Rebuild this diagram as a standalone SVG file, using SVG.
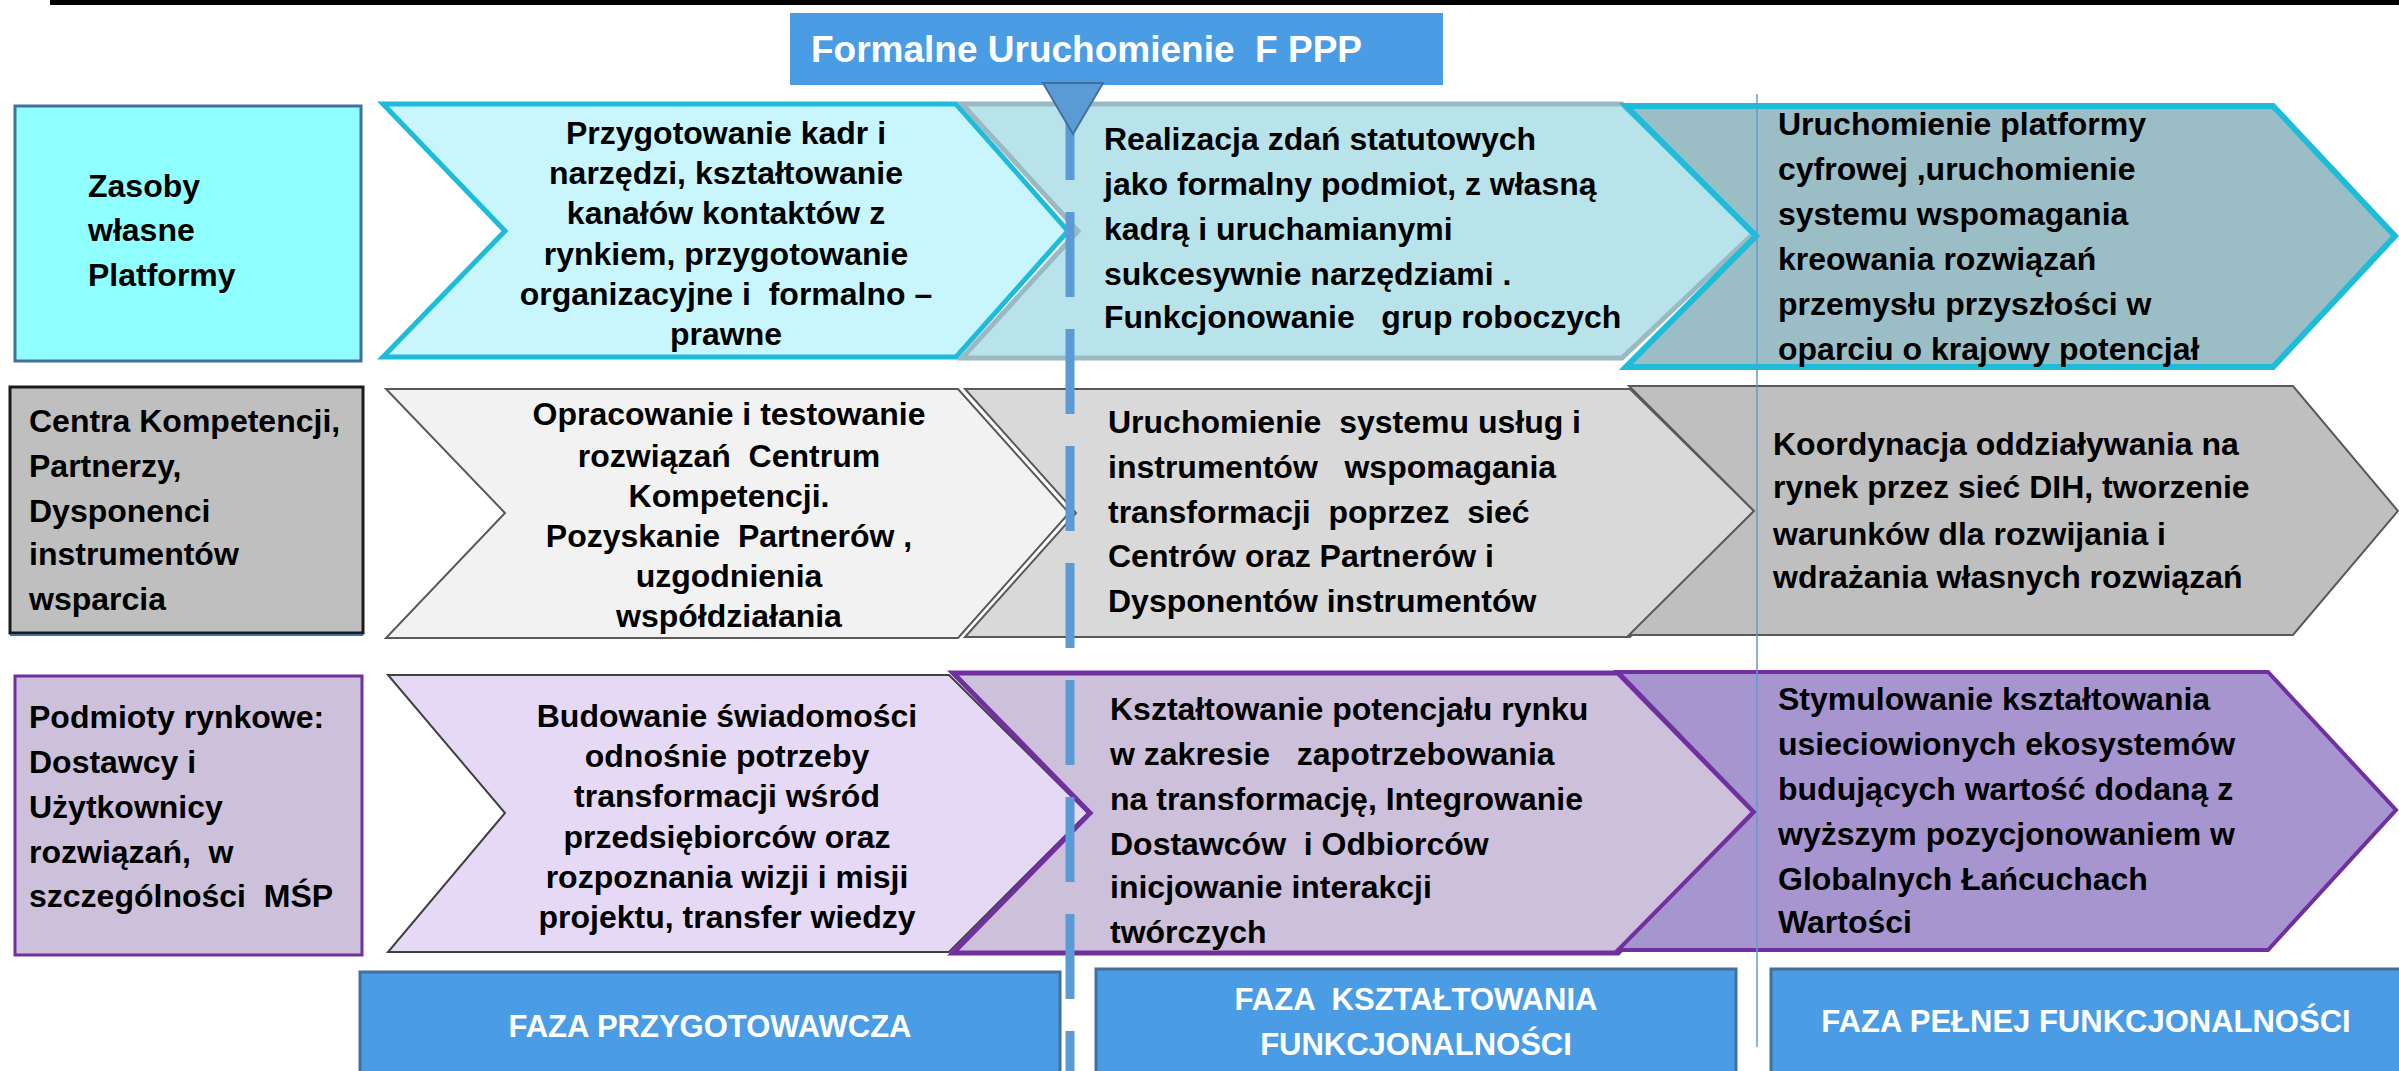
<svg xmlns="http://www.w3.org/2000/svg" width="2399" height="1071" viewBox="0 0 2399 1071" xml:space="preserve">
<style>
text{font-family:"Liberation Sans",Arial,sans-serif;font-weight:bold;white-space:pre}
.t{font-size:32px;fill:#000}
.c{text-anchor:middle}
.w{fill:#fff}
.ph{font-size:31px}
.blue{fill:#4A9DE4;stroke:#41719C;stroke-width:3}
</style>
<rect x="50" y="0" width="2349" height="5" fill="#000"/>

<g id="title">
<rect x="790" y="13" width="653" height="72" fill="#4A9DE4"/>
<text x="811" y="62" class="w" style="font-size:37px">Formalne Uruchomienie  F PPP</text>
</g>

<!-- Row 1 -->
<g id="row1-label">
<rect x="15" y="106" width="346" height="255" fill="#8FFFFF" stroke="#41719C" stroke-width="3"/>
<text class="t" x="88" y="197">Zasoby</text>
<text class="t" x="88" y="241">własne</text>
<text class="t" x="88" y="286">Platformy</text>
</g>
<g id="row1-prep">
<polygon points="383,104 956,104 1068,231 956,357 383,357 505,231" fill="#C9F6FC" stroke="#1FBCDA" stroke-width="5"/>
<text class="t c" x="726" y="144">Przygotowanie kadr i</text>
<text class="t c" x="726" y="184">narzędzi, kształtowanie</text>
<text class="t c" x="726" y="224">kanałów kontaktów z</text>
<text class="t c" x="726" y="265">rynkiem, przygotowanie</text>
<text class="t c" x="726" y="305">organizacyjne i  formalno –</text>
<text class="t c" x="726" y="345">prawne</text>
</g>
<g id="row1-shape">
<polygon points="962,104 1622,104 1754,233 1622,358 962,358 1078,231" fill="#B8E3EA" stroke="#9BB9C2" stroke-width="5"/>
<text class="t" x="1104" y="150">Realizacja zdań statutowych</text>
<text class="t" x="1104" y="195">jako formalny podmiot, z własną</text>
<text class="t" x="1104" y="240">kadrą i uruchamianymi</text>
<text class="t" x="1104" y="285">sukcesywnie narzędziami .</text>
<text class="t" x="1104" y="328">Funkcjonowanie   grup roboczych</text>
</g>
<g id="row1-full">
<polygon points="1626,106 2273,106 2395,236 2273,367 1626,367 1756,236" fill="#9BBDC6" stroke="#1FBCDA" stroke-width="6"/>
<text class="t" x="1778" y="135">Uruchomienie platformy</text>
<text class="t" x="1778" y="180">cyfrowej ,uruchomienie</text>
<text class="t" x="1778" y="225">systemu wspomagania</text>
<text class="t" x="1778" y="270">kreowania rozwiązań</text>
<text class="t" x="1778" y="315">przemysłu przyszłości w</text>
<text class="t" x="1778" y="360">oparciu o krajowy potencjał</text>
</g>

<!-- Row 2 -->
<g id="row2-label">
<rect x="10" y="387" width="353" height="246" fill="#BFBFBF" stroke="#1A1A1A" stroke-width="3"/>
<line x1="10" y1="635" x2="363" y2="635" stroke="#41719C" stroke-width="2"/>
<text class="t" x="29" y="432">Centra Kompetencji,</text>
<text class="t" x="29" y="477">Partnerzy,</text>
<text class="t" x="29" y="522">Dysponenci</text>
<text class="t" x="29" y="565">instrumentów</text>
<text class="t" x="29" y="610">wsparcia</text>
</g>
<g id="row2-prep">
<polygon points="386,389 958,389 1069,513 958,638 386,638 505,513" fill="#F2F2F2" stroke="#595959" stroke-width="2"/>
<text class="t c" x="729" y="425">Opracowanie i testowanie</text>
<text class="t c" x="729" y="467">rozwiązań  Centrum</text>
<text class="t c" x="729" y="507">Kompetencji.</text>
<text class="t c" x="729" y="547">Pozyskanie  Partnerów ,</text>
<text class="t c" x="729" y="587">uzgodnienia</text>
<text class="t c" x="729" y="627">współdziałania</text>
</g>
<g id="row2-shape">
<polygon points="965,389 1630,389 1754,511 1630,637 965,637 1076,513" fill="#D9D9D9" stroke="#595959" stroke-width="2"/>
<text class="t" x="1108" y="433">Uruchomienie  systemu usług i</text>
<text class="t" x="1108" y="478">instrumentów   wspomagania</text>
<text class="t" x="1108" y="523">transformacji  poprzez  sieć</text>
<text class="t" x="1108" y="567">Centrów oraz Partnerów i</text>
<text class="t" x="1108" y="612">Dysponentów instrumentów</text>
</g>
<g id="row2-full">
<polygon points="1629,386 2293,386 2398,511 2293,635 1629,635 1754,511" fill="#BFBFBF" stroke="#595959" stroke-width="2"/>
<text class="t" x="1773" y="455">Koordynacja oddziaływania na</text>
<text class="t" x="1773" y="498">rynek przez sieć DIH, tworzenie</text>
<text class="t" x="1773" y="545">warunków dla rozwijania i</text>
<text class="t" x="1773" y="588">wdrażania własnych rozwiązań</text>
</g>

<!-- Row 3 -->
<g id="row3-label">
<rect x="15" y="676" width="347" height="279" fill="#CCC0DA" stroke="#7030A0" stroke-width="3"/>
<text class="t" x="29" y="728">Podmioty rynkowe:</text>
<text class="t" x="29" y="773">Dostawcy i</text>
<text class="t" x="29" y="818">Użytkownicy</text>
<text class="t" x="29" y="863">rozwiązań,  w</text>
<text class="t" x="29" y="907">szczególności  MŚP</text>
</g>
<g id="row3-prep">
<polygon points="388,675 949,675 1088,813 949,952 388,952 505,813" fill="#E5D9F6" stroke="#404040" stroke-width="2"/>
<text class="t c" x="727" y="727">Budowanie świadomości</text>
<text class="t c" x="727" y="767">odnośnie potrzeby</text>
<text class="t c" x="727" y="807">transformacji wśród</text>
<text class="t c" x="727" y="848">przedsiębiorców oraz</text>
<text class="t c" x="727" y="888">rozpoznania wizji i misji</text>
<text class="t c" x="727" y="928">projektu, transfer wiedzy</text>
</g>
<g id="row3-shape">
<polygon points="953,673 1618,673 1754,812 1618,953 953,953 1090,813" fill="#CCC0DA" stroke="#7030A0" stroke-width="5"/>
<text class="t" x="1110" y="720">Kształtowanie potencjału rynku</text>
<text class="t" x="1110" y="765">w zakresie   zapotrzebowania</text>
<text class="t" x="1110" y="810">na transformację, Integrowanie</text>
<text class="t" x="1110" y="855">Dostawców  i Odbiorców</text>
<text class="t" x="1110" y="898">inicjowanie interakcji</text>
<text class="t" x="1110" y="943">twórczych</text>
</g>
<g id="row3-full">
<polygon points="1618,672 2268,672 2396,810 2268,950 1618,950 1754,812" fill="#A795D0" stroke="#7030A0" stroke-width="4"/>
<text class="t" x="1778" y="710">Stymulowanie kształtowania</text>
<text class="t" x="1778" y="755">usieciowionych ekosystemów</text>
<text class="t" x="1778" y="800">budujących wartość dodaną z</text>
<text class="t" x="1778" y="845">wyższym pozycjonowaniem w</text>
<text class="t" x="1778" y="890">Globalnych Łańcuchach</text>
<text class="t" x="1778" y="933">Wartości</text>
</g>

<!-- Phases -->
<g id="phase1">
<rect class="blue" x="360" y="972" width="700" height="110"/>
<text class="ph w c" x="710" y="1037">FAZA PRZYGOTOWAWCZA</text>
</g>
<g id="phase2">
<rect class="blue" x="1096" y="969" width="640" height="110"/>
<text class="ph w c" x="1416" y="1010">FAZA  KSZTAŁTOWANIA</text>
<text class="ph w c" x="1416" y="1055">FUNKCJONALNOŚCI</text>
</g>
<g id="phase3">
<rect class="blue" x="1771" y="969" width="640" height="110"/>
<text class="ph w c" x="2086" y="1032">FAZA PEŁNEJ FUNKCJONALNOŚCI</text>
</g>

<g id="connectors">
<line x1="1070" y1="95" x2="1070" y2="1071" stroke="#5B9BD5" stroke-width="9" stroke-dasharray="85 32"/>
<line x1="1757" y1="94" x2="1757" y2="1047" stroke="#5B9BD5" stroke-width="1.5"/>
<polygon points="1043,83 1103,83 1073,134" fill="#5B9BD5" stroke="#41719C" stroke-width="2"/>
</g>
</svg>
